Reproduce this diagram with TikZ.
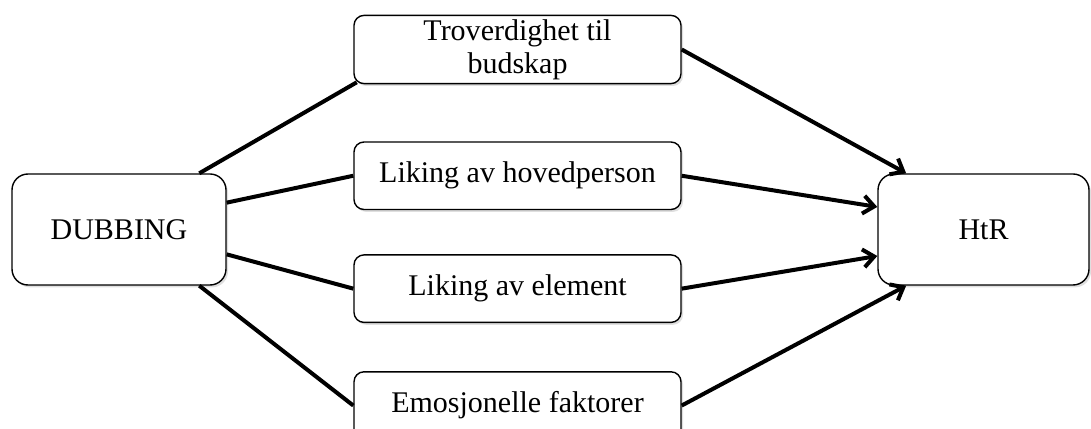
\documentclass[tikz,border=0pt]{standalone}
\usepackage{fontspec}
\setmainfont{Liberation Serif}
\usepackage{tikz}
\usetikzlibrary{arrows.meta,positioning,shadows}

\begin{document}
\begin{tikzpicture}[
  x=0.5pt, y=0.5pt,
  shadowed/.style={drop shadow={shadow xshift=1pt,shadow yshift=-1.2pt,opacity=0.25}},
  box/.style={draw,rounded corners=5pt,fill=white,line width=0.7pt,align=center,
    minimum width=163.5pt,minimum height=33.75pt,inner sep=2pt,
    font=\fontsize{15pt}{16.5pt}\selectfont,shadowed},
  bigbox/.style={box,rounded corners=8pt,minimum width=107pt,minimum height=55.5pt},
  link/.style={line width=2pt},
  arrow/.style={link,-{Straight Barb[length=5.5pt,width=9pt]}}
]
  \useasboundingbox (0,0) rectangle (1091,428);

  \node[bigbox] (dub) at (119,198.5) {DUBBING};
  \node[bigbox,minimum width=105.5pt] (htr) at (983.5,198.5) {HtR};

  \node[box] (trust) at (517.5,378.5) {Troverdighet til\\budskap};
  \node[box, below=28.5pt of trust] (lead) {Liking av hovedperson};
  \node[box, below=22pt of lead] (elem) {Liking av element};
  \node[box, below=24pt of elem] (emo) {Emosjonelle faktorer};

  \draw[link, shorten >=-2pt] (dub.35) -- (trust.south west);
  \draw[link] (dub.14) -- (lead.west);
  \draw[link] (dub.-13) -- (elem.west);
  \draw[link] (dub.-35) -- (emo.west);

  \draw[arrow] (trust.east) -- (htr.144);
  \draw[arrow] (lead.east) -- (htr.168);
  \draw[arrow] (elem.east) -- (htr.194);
  \draw[arrow] (emo.east) -- (htr.216);
\end{tikzpicture}
\end{document}
